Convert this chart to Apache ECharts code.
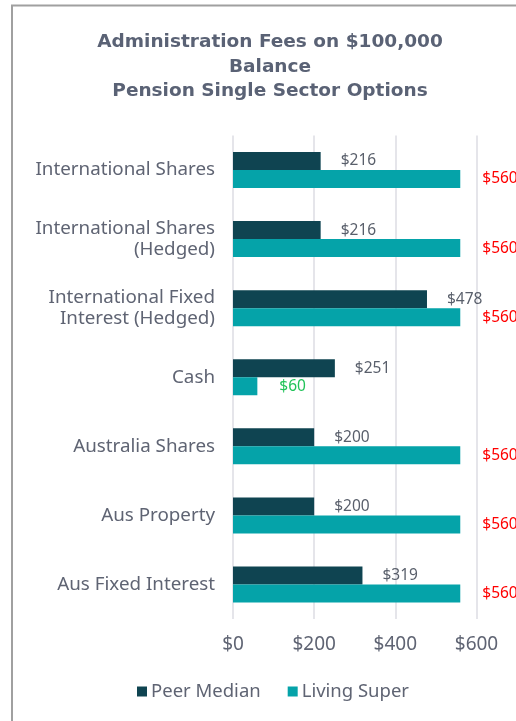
<!DOCTYPE html>
<html>
<head>
<meta charset="utf-8">
<script src="https://cdn.jsdelivr.net/npm/echarts@6/dist/echarts.min.js"></script>
<style>
html,body{margin:0;padding:0;background:#fff;}
#chart{width:516px;height:721px;}
</style>
</head>
<body>
<div id="chart"></div>
<script>
const categories = [
  'International Shares',
  'International Shares\n(Hedged)',
  'International Fixed\nInterest (Hedged)',
  'Cash',
  'Australia Shares',
  'Aus Property',
  'Aus Fixed Interest'
];
const peerMedian = [216, 216, 478, 251, 200, 200, 319];
const livingSuper = [560, 560, 560, 60, 560, 560, 560];
const xTicks = [0, 200, 400, 600];

const textColor = '#5f6473';
const FONT = 'Noto Sans';
const chart = echarts.init(document.getElementById('chart'));

const livingData = livingSuper.map((v, i) => ({
  value: v,
  label: { color: v > peerMedian[i] ? '#ff0000' : '#22c35a' }
}));

chart.setOption({
  animation: false,
  graphic: [{
    type: 'rect',
    shape: { x: 12, y: 5.5, width: 1000, height: 1000 },
    style: { fill: 'none', stroke: '#a0a0a0', lineWidth: 2 },
    silent: true
  }],
  title: {
    text: 'Administration Fees on $100,000\nBalance\nPension Single Sector Options',
    left: 265,
    top: 25.5,
    textAlign: 'center',
    textStyle: {
      fontFamily: 'DejaVu Sans',
      fontWeight: 'bold',
      fontSize: 18.5,
      lineHeight: 24.3,
      color: '#5a6275'
    }
  },
  legend: {
    left: 132,
    top: 677,
    icon: 'rect',
    itemWidth: 10,
    itemHeight: 10,
    itemGap: 27,
    textStyle: { fontFamily: FONT, fontSize: 18.5, color: textColor, padding: [0, 0, 0, -1] },
    data: ['Peer Median', 'Living Super']
  },
  grid: { left: 233, right: 39.5, top: 135.5, bottom: 102, containLabel: false },
  xAxis: {
    type: 'value',
    min: xTicks[0],
    max: xTicks[xTicks.length - 1],
    interval: xTicks[1] - xTicks[0],
    axisLine: { show: false },
    axisTick: { show: false },
    splitLine: { lineStyle: { color: '#dcdce3', width: 1.5 } },
    axisLabel: {
      formatter: v => '$' + v,
      fontFamily: FONT,
      fontSize: 19,
      color: textColor,
      margin: 16
    }
  },
  yAxis: {
    type: 'category',
    inverse: true,
    data: categories,
    axisLine: { show: false },
    axisTick: { show: false },
    axisLabel: {
      fontFamily: FONT,
      fontSize: 18.8,
      lineHeight: 21,
      color: textColor,
      margin: 18,
      align: 'right',
      padding: [0, 0, 0, 0]
    }
  },
  series: [
    {
      name: 'Peer Median',
      type: 'bar',
      data: peerMedian,
      barWidth: 18,
      barGap: '0%',
      itemStyle: { color: '#0f4451' },
      label: {
        show: true,
        position: 'right',
        distance: 20,
        formatter: p => '$' + p.value,
        fontFamily: FONT,
        fontSize: 15.5,
        color: '#595f6b'
      }
    },
    {
      name: 'Living Super',
      type: 'bar',
      data: livingData,
      barWidth: 18,
      itemStyle: { color: '#05a3a9' },
      label: {
        show: true,
        position: 'right',
        distance: 22,
        formatter: p => '$' + p.value,
        fontFamily: FONT,
        fontSize: 15.5
      }
    }
  ]
});
</script>
</body>
</html>
